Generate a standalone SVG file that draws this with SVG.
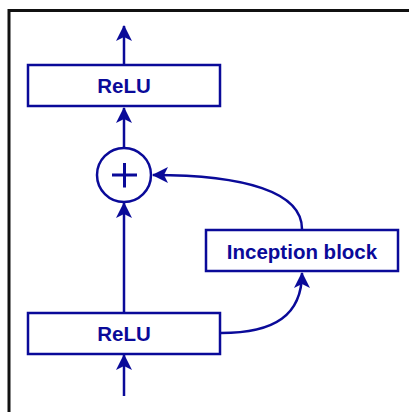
<svg xmlns="http://www.w3.org/2000/svg" width="409" height="412" viewBox="0 0 409 412">
<style>
.box{fill:#ffffff;stroke:#0a0a99;stroke-width:2.5}
.lbl{font-family:"Liberation Sans",Arial,sans-serif;font-weight:bold;font-size:20.5px;fill:#0a0a99;text-anchor:middle}
.edge{fill:none;stroke:#0a0a99;stroke-width:2.5}
</style>
<defs>
<marker id="ah" markerWidth="16" markerHeight="16" viewBox="0 0 16 16" refX="15" refY="8" orient="auto" markerUnits="userSpaceOnUse">
<path d="M0,0 L16,8 L0,16 L4,8 Z" fill="#0a0a99"/>
</marker>
</defs>
<rect x="0" y="0" width="409" height="412" fill="#ffffff"/>
<path d="M9,413 V10.5 H410" fill="none" stroke="#111111" stroke-width="3"/>
<g id="connectors">
<path class="edge" d="M124,396 V355" marker-end="url(#ah)"/>
<path class="edge" d="M124,312 V203" marker-end="url(#ah)"/>
<path class="edge" d="M124,147 V108" marker-end="url(#ah)"/>
<path class="edge" d="M124,64 V26" marker-end="url(#ah)"/>
<path class="edge" d="M221,333 C275,333 302,315 302,273" marker-end="url(#ah)"/>
<path class="edge" d="M302,229 C302,192 245,175 153,175" marker-end="url(#ah)"/>
</g>
<g id="relu_top">
<rect class="box" x="28" y="65" width="192" height="41"/>
<text class="lbl" x="124" y="93">ReLU</text>
</g>
<g id="add">
<circle cx="124" cy="175" r="27" fill="#ffffff" stroke="#0a0a99" stroke-width="2.5"/>
<path d="M112,175 H137 M124.5,163 V187.5" stroke="#0a0a99" stroke-width="3" fill="none"/>
</g>
<g id="inception">
<rect class="box" x="206" y="230" width="192" height="41"/>
<text class="lbl" x="302" y="258.5">Inception block</text>
</g>
<g id="relu_bottom">
<rect class="box" x="28" y="313" width="192" height="41"/>
<text class="lbl" x="124" y="341">ReLU</text>
</g>
</svg>
